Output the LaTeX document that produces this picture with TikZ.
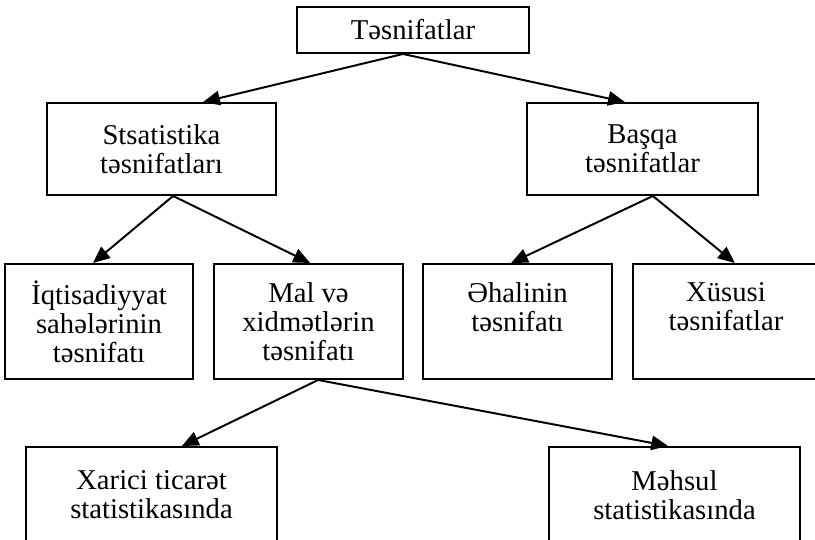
\documentclass[tikz,border=0pt]{standalone}
\usepackage{fontspec}
\setmainfont{Liberation Serif}
\usetikzlibrary{arrows.meta}

\begin{document}
\begin{tikzpicture}[
	tbox/.style = {draw = black, line width = 1.4pt, inner sep = 0pt, align = center,
		font = \fontsize{20.4pt}{20.7pt}\selectfont},
	tarrow/.style = {line width = 1.4pt, -{Triangle[length = 0.42cm, width = 0.36cm]}}
	]

	\useasboundingbox (0,0) rectangle (20.375,13.475);
	\clip (0,0) rectangle (20.375,13.475);

	% levels
	\node[tbox, minimum width = 5.8cm, minimum height = 1.15cm] (tesnif) at (10.325,12.725) {Təsnifatlar};

	\node[tbox, minimum width = 5.73cm, minimum height = 2.3cm] (stat) at (4.0375,9.75) {Stsatistika\\təsnifatları};
	\node[tbox, minimum width = 5.77cm, minimum height = 2.3cm] (basqa) at (16.0625,9.75) {Başqa\\təsnifatlar};

	\node[tbox, minimum width = 4.7cm, minimum height = 2.875cm] (iqt) at (2.475,5.4375) {İqtisadiyyat\\sahələrinin\\təsnifatı};
	\node[tbox, minimum width = 4.72cm, minimum height = 2.875cm] (mal) at (7.7125,5.4375) {Mal və\\xidmətlərin\\təsnifatı};
	\node[tbox, minimum width = 4.72cm, minimum height = 2.875cm] (ehali) at (12.9375,5.4375) {Əhalinin\\təsnifatı\\\mbox{}};
	\node[tbox, minimum width = 4.65cm, minimum height = 2.875cm] (xususi) at (18.15,5.4375) {Xüsusi\\təsnifatlar\\\mbox{}};

	\node[tbox, minimum width = 6.275cm, minimum height = 3.125cm] (xarici) at (3.7875,0.7375) {Xarici ticarət\\statistikasında\\\mbox{}};
	\node[tbox, minimum width = 6.275cm, minimum height = 3.125cm] (mehsul) at (16.8625,0.7375) {Məhsul\\statistikasında\\\mbox{}};

	% arrows
	\draw[tarrow] ([xshift = -0.25cm]tesnif.south) -- ([xshift = 1.04cm]stat.north);
	\draw[tarrow] ([xshift = -0.25cm]tesnif.south) -- ([xshift = -0.44cm]basqa.north);

	\draw[tarrow] ([xshift = 0.29cm]stat.south) -- ([xshift = -0.15cm]iqt.north);
	\draw[tarrow] ([xshift = 0.29cm]stat.south) -- ([xshift = 0.04cm]mal.north);

	\draw[tarrow] ([xshift = 0.26cm]basqa.south) -- ([xshift = -0.16cm]ehali.north);
	\draw[tarrow] ([xshift = 0.26cm]basqa.south) -- ([xshift = 0.22cm]xususi.north);

	\draw[tarrow] ([xshift = 0.24cm]mal.south) -- ([xshift = 0.76cm]xarici.north);
	\draw[tarrow] ([xshift = 0.24cm]mal.south) -- ([xshift = -0.16cm]mehsul.north);

\end{tikzpicture}
\end{document}
